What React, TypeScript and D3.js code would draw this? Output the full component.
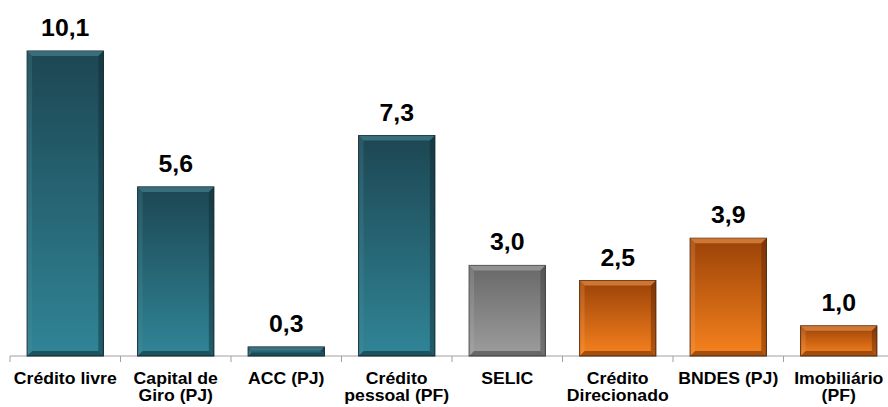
import React from "react";
import * as d3 from "d3";

const categories = ["Crédito livre", "Capital de Giro (PJ)", "ACC (PJ)", "Crédito pessoal (PF)", "SELIC", "Crédito Direcionado", "BNDES (PJ)", "Imobiliário (PF)"];
const labelLines = [["Crédito livre"], ["Capital de", "Giro (PJ)"], ["ACC (PJ)"], ["Crédito", "pessoal (PF)"], ["SELIC"], ["Crédito", "Direcionado"], ["BNDES (PJ)"], ["Imobiliário", "(PF)"]];
const values = [10.1, 5.6, 0.3, 7.3, 3.0, 2.5, 3.9, 1.0];
const groups = ["teal", "teal", "teal", "teal", "gray", "orange", "orange", "orange"];

const palette: Record<string, { top: string; bottom: string; light: string; dark: string; edge: string }> = {
  teal: { top: "#1d4652", bottom: "#308597", light: "#4f8f9c", dark: "#0f2a31", edge: "#0c2128" },
  gray: { top: "#686868", bottom: "#9d9d9d", light: "#b5b5b5", dark: "#3e3e3e", edge: "#3a3a3a" },
  orange: { top: "#9a4208", bottom: "#f7821e", light: "#f6a25a", dark: "#5e2603", edge: "#4a1e02" },
};

const W = 888, H = 407;
const axisY = 356;

export default function App() {
  const x = d3.scaleBand<string>().domain(categories).range([10, 894]).paddingInner(0.31).paddingOuter(0.155);
  const y = d3.scaleLinear().domain([0, 10.1]).range([axisY, 51]);
  const fmt = (v: number) => d3.format(".1f")(v).replace(".", ",");
  const bw = x.bandwidth();
  const step = x.step();
  const ticks = d3.range(categories.length + 1).map((i) => 10 + i * step);
  return (
    <svg width={W} height={H} style={{ position: "absolute", left: 0, top: 0 }} fontFamily="'Liberation Sans', Arial, sans-serif">
      <defs>
        {Object.entries(palette).map(([k, c]) => (
          <linearGradient key={k} id={"g-" + k} x1="0" y1="0" x2="0" y2="1">
            <stop offset="0" stopColor={c.top} />
            <stop offset="1" stopColor={c.bottom} />
          </linearGradient>
        ))}
      </defs>
      <line x1={10} x2={W} y1={axisY} y2={axisY} stroke="#a0a0a0" strokeWidth={1} />
      {ticks.map((t, i) => (
        <line key={i} x1={t} x2={t} y1={axisY} y2={axisY + 6} stroke="#a0a0a0" strokeWidth={1} />
      ))}
      {categories.map((cat, i) => {
        const c = palette[groups[i]];
        const x0 = x(cat)!;
        const y0 = y(values[i]);
        const h = axisY - y0;
        const b = Math.min(5, h / 2.5);
        const x1 = x0 + bw;
        const y1 = axisY;
        const cx = x0 + bw / 2;
        return (
          <g key={cat}>
            <rect x={x0} y={y0} width={bw} height={h} fill={`url(#g-${groups[i]})`} stroke={c.edge} strokeWidth={1} />
            <polygon points={`${x0},${y0} ${x1},${y0} ${x1 - b},${y0 + b} ${x0 + b},${y0 + b}`} fill={c.light} opacity={0.55} />
            <polygon points={`${x0},${y0} ${x0 + b},${y0 + b} ${x0 + b},${y1 - b} ${x0},${y1}`} fill={c.light} opacity={0.25} />
            <polygon points={`${x1},${y0} ${x1 - b},${y0 + b} ${x1 - b},${y1 - b} ${x1},${y1}`} fill={c.dark} opacity={0.45} />
            <polygon points={`${x0},${y1} ${x0 + b},${y1 - b} ${x1 - b},${y1 - b} ${x1},${y1}`} fill={c.dark} opacity={0.55} />
            <text transform={`translate(${cx},${y0 - 15}) scale(1.08,1)`} textAnchor="middle" fontSize={23} fontWeight="bold" fill="#000">{fmt(values[i])}</text>
            <text transform={`translate(${cx},384) scale(1.07,1)`} textAnchor="middle" fontSize={16.5} fontWeight="bold" fill="#000">
              {labelLines[i].map((ln, j) => (
                <tspan key={j} x={0} y={j * 17}>{ln}</tspan>
              ))}
            </text>
          </g>
        );
      })}
    </svg>
  );
}
